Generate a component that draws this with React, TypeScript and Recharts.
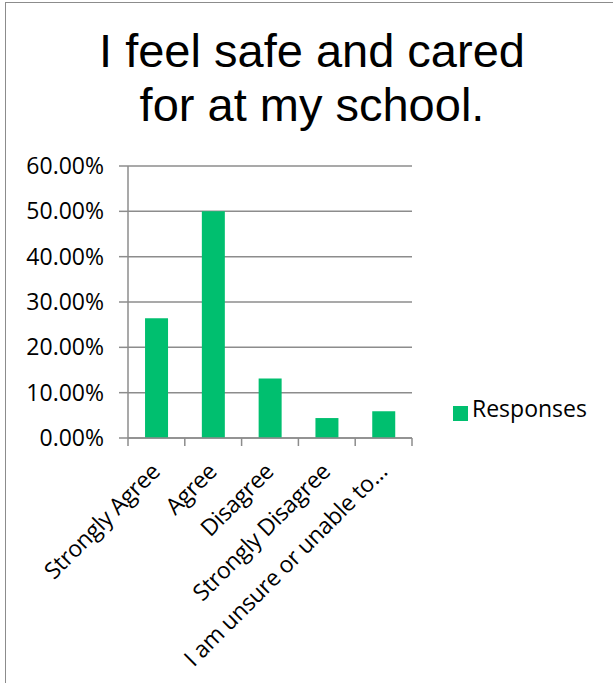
import React from 'react';
import { BarChart, Bar, XAxis, YAxis, CartesianGrid, Legend } from 'recharts';

const titleLines = ['I feel safe and cared', 'for at my school.'];
const categories = ['Strongly Agree', 'Agree', 'Disagree', 'Strongly Disagree', 'I am unsure or unable to…'];
const responses = [0.264, 0.5, 0.131, 0.044, 0.059];
const yTicks = [0, 0.1, 0.2, 0.3, 0.4, 0.5, 0.6];
const seriesName = 'Responses';

const data = categories.map((c, i) => ({ category: c, Responses: responses[i] }));

const GRAY = '#8c8c8c';
const GREEN = '#00BF6F';
const LABEL_FONT = '"Open Sans", sans-serif';
const MARK = 8;

const CatTick = (props: any) => {
  const { x, y, payload, index } = props;
  const half = payload && payload.offset ? payload.offset : 0;
  const axisY = y - MARK;
  const isLast = index === categories.length - 1;
  return (
    <g>
      <line x1={x - half} y1={axisY} x2={x - half} y2={axisY + MARK} stroke={GRAY} strokeWidth={1.5} />
      {isLast && (
        <line x1={x + half} y1={axisY} x2={x + half} y2={axisY + MARK} stroke={GRAY} strokeWidth={1.5} />
      )}
      <g transform={`translate(${x + 5},${axisY + 35})`}>
        <text
          x={0}
          y={0}
          textAnchor="end"
          transform="rotate(-45)"
          fill="#000"
          fontSize={23}
          fontFamily={LABEL_FONT}
          letterSpacing={-0.3}
        >
          {payload.value}
        </text>
      </g>
    </g>
  );
};

export default function App() {
  return (
    <div style={{ position: 'absolute', left: 0, top: 0, width: 613, height: 683, overflow: 'hidden', background: '#fff' }}>
      <div
        style={{
          position: 'absolute',
          left: 5,
          top: 2,
          width: 700,
          height: 800,
          borderLeft: `1.5px solid ${GRAY}`,
          borderTop: `1.5px solid ${GRAY}`,
        }}
      />
      <div
        style={{
          position: 'absolute',
          left: 0,
          top: 24,
          width: 624,
          textAlign: 'center',
          fontFamily: '"Liberation Sans", Arial, sans-serif',
          fontSize: 47,
          lineHeight: '54px',
          color: '#000',
        }}
      >
        {titleLines.map((l) => (
          <div key={l}>{l}</div>
        ))}
      </div>
      <div style={{ position: 'absolute', left: 0, top: 0 }}>
        <BarChart
          width={613}
          height={683}
          data={data}
          margin={{ top: 166, right: 201, bottom: 0, left: 0 }}
          barCategoryGap="30%"
        >
          <CartesianGrid vertical={false} stroke={GRAY} strokeWidth={1.5} />
          <XAxis
            dataKey="category"
            height={245}
            interval={0}
            axisLine={{ stroke: GRAY, strokeWidth: 1.5 }}
            tickLine={false}
            tickSize={MARK}
            tickMargin={0}
            tick={<CatTick />}
          />
          <YAxis
            width={128}
            domain={[0, 0.6]}
            ticks={yTicks}
            interval={0}
            tickFormatter={(v: number) => (v * 100).toFixed(2) + '%'}
            axisLine={{ stroke: GRAY, strokeWidth: 1.5 }}
            tickLine={{ stroke: GRAY, strokeWidth: 1.5 }}
            tickSize={9}
            tickMargin={15}
            tick={{ fill: '#000', fontSize: 23, fontFamily: LABEL_FONT }}
          />
          <Bar dataKey="Responses" name={seriesName} fill={GREEN} isAnimationActive={false} />
          <Legend
            layout="vertical"
            iconType="square"
            iconSize={15}
            formatter={(value: string) => (
              <span style={{ color: '#000', fontFamily: LABEL_FONT, fontSize: 23, whiteSpace: 'nowrap' }}>{value}</span>
            )}
            wrapperStyle={{ position: 'absolute', left: 453, top: 392, width: 0, height: 0, overflow: 'visible', whiteSpace: 'nowrap' }}
          />
        </BarChart>
      </div>
    </div>
  );
}
